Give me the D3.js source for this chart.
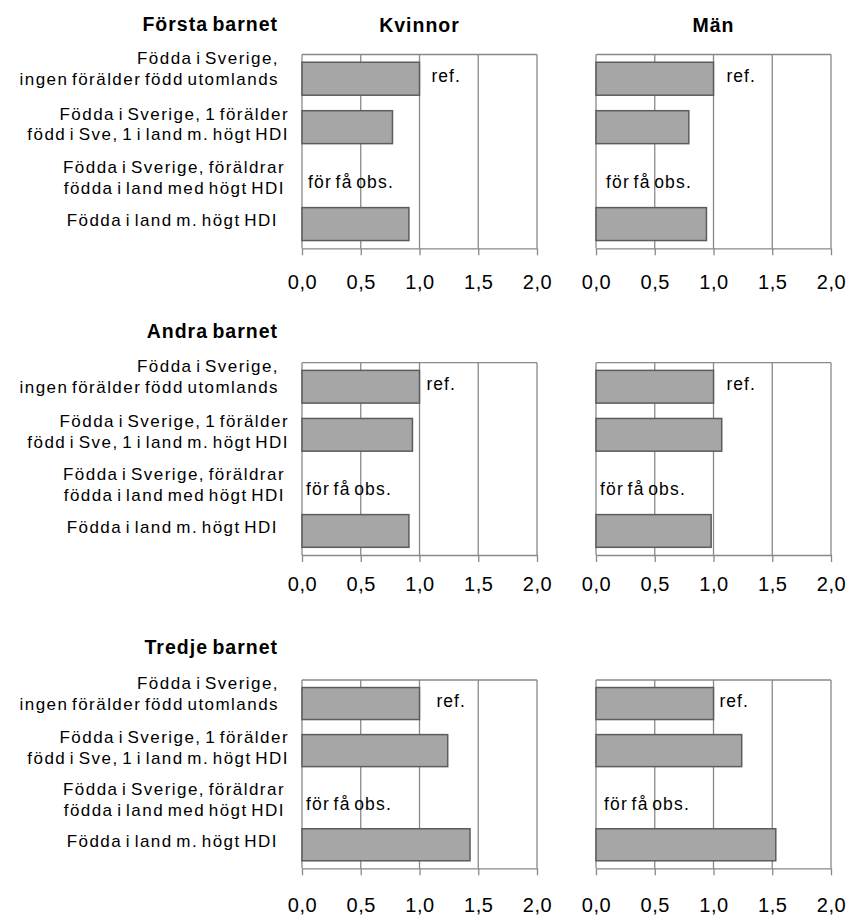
<!DOCTYPE html>
<html>
<head>
<meta charset="utf-8">
<script src="https://cdn.jsdelivr.net/npm/d3@7"></script>
<style>
  html, body { margin: 0; padding: 0; background: #fff; }
  svg { display: block; font-family: "Liberation Sans", Arial, sans-serif; }
</style>
</head>
<body>
<svg id="chart" width="848" height="918"></svg>
<script>
// ---------- DATA ----------
const parities = ["Första barnet", "Andra barnet", "Tredje barnet"];
const sexes = ["Kvinnor", "Män"];
const categories = [
  ["Födda i Sverige,", "ingen förälder född utomlands"],
  ["Födda i Sverige, 1 förälder", "född i Sve, 1 i land m. högt HDI"],
  ["Födda i Sverige, föräldrar", "födda i land med högt HDI"],
  ["Födda i land m. högt HDI"]
];
// relative risks per parity row (null = too few observations)
const kvinnorValues = [
  [1.00, 0.77, null, 0.91],
  [1.00, 0.94, null, 0.91],
  [1.00, 1.24, null, 1.43]
];
const manValues = [
  [1.00, 0.79, null, 0.94],
  [1.00, 1.07, null, 0.98],
  [1.00, 1.24, null, 1.53]
];
const tickValues = [0, 0.5, 1, 1.5, 2];
const tickLabels = ["0,0", "0,5", "1,0", "1,5", "2,0"];
const refLabel = "ref.";
const obsLabel = "för få obs.";

// ---------- LAYOUT / STYLE ----------
const colX = [[302, 537], [596, 831]];
const rowY = [[54.5, 248.3], [362.7, 555], [680, 868.3]];
const titleBase = [31, 337.5, 654];
const tickBase = [289.3, 590.5, 912];
const refDx = [[12, 13], [7, 13], [17, 6]];
const obsDx = [[6, 10], [4, 4], [4, 8]];
const catNudge = [-10, -3, 2, -3.5];
const catRight = [279, 289, 285, 278];
const gridColor = "#898989";
const barFill = "#a6a6a6";
const barStroke = "#5c5c5c";

const svg = d3.select("#chart");
const allValues = [kvinnorValues, manValues];

parities.forEach((pTitle, r) => {
  const y = d3.scaleBand().domain(d3.range(categories.length))
    .range(rowY[r]).paddingInner(0.32).paddingOuter(0.16);

  // row title
  svg.append("text")
    .attr("x", 278).attr("y", titleBase[r])
    .attr("text-anchor", "end")
    .style("font-weight", "bold").style("font-size", "19.5px")
    .style("letter-spacing", "1px").style("word-spacing", "-2px").attr("fill", "#000")
    .text(pTitle);

  // category labels
  categories.forEach((lines, i) => {
    const c = y(i) + y.bandwidth() / 2 + catNudge[i];
    const t = svg.append("text")
      .attr("text-anchor", "end")
      .style("font-size", "17px").style("letter-spacing", "1.45px")
      .style("word-spacing", "-2.5px")
      .attr("fill", "#000");
    if (lines.length === 2) {
      t.append("tspan").attr("x", catRight[i]).attr("y", c - 4.4).text(lines[0]);
      t.append("tspan").attr("x", catRight[i]).attr("y", c + 16.1).text(lines[1]);
    } else {
      t.append("tspan").attr("x", catRight[i]).attr("y", c + 5.9).text(lines[0]);
    }
  });

  sexes.forEach((sex, c) => {
    const x = d3.scaleLinear().domain([0, 2]).range(colX[c]);
    const [top, bottom] = rowY[r];
    const g = svg.append("g");

    if (r === 0) {
      svg.append("text")
        .attr("x", (colX[c][0] + colX[c][1]) / 2).attr("y", titleBase[0] + 1)
        .attr("text-anchor", "middle")
        .style("font-weight", "bold").style("font-size", "19.5px")
        .style("letter-spacing", "1px")
        .text(sex);
    }

    // gridlines
    g.selectAll("line.grid").data(tickValues.filter(v => v > 0)).join("line")
      .attr("x1", d => x(d)).attr("x2", d => x(d))
      .attr("y1", top).attr("y2", bottom)
      .attr("stroke", gridColor).attr("stroke-width", 1.3);
    // top border
    g.append("line")
      .attr("x1", x(0)).attr("x2", x(2)).attr("y1", top).attr("y2", top)
      .attr("stroke", gridColor).attr("stroke-width", 1.3);
    // left axis
    g.append("line")
      .attr("x1", x(0)).attr("x2", x(0)).attr("y1", top).attr("y2", bottom)
      .attr("stroke", gridColor).attr("stroke-width", 1.3);

    // bars
    const vals = allValues[c][r];
    g.selectAll("rect.bar").data(vals.map((v, i) => ({ v, i })).filter(d => d.v !== null))
      .join("rect")
      .attr("x", x(0))
      .attr("y", d => y(d.i))
      .attr("width", d => x(d.v) - x(0))
      .attr("height", y.bandwidth())
      .attr("fill", barFill).attr("stroke", barStroke).attr("stroke-width", 1.5);

    // ref label on the reference category
    g.append("text")
      .attr("x", x(vals[0]) + refDx[r][c])
      .attr("y", y(0) + y.bandwidth() / 2 + 3)
      .style("font-size", "17.5px").style("letter-spacing", "1px")
      .text(refLabel);

    // too few obs labels
    vals.forEach((v, i) => {
      if (v === null) {
        g.append("text")
          .attr("x", x(0) + obsDx[r][c])
          .attr("y", y(i) + y.bandwidth() / 2 + 12)
          .style("font-size", "17.5px").style("letter-spacing", "1.2px")
          .style("word-spacing", "-2.5px")
          .text(obsLabel);
      }
    });

    // bottom axis
    const ax = d3.axisBottom(x).tickValues(tickValues)
      .tickFormat((d, i) => tickLabels[i]).tickSize(7).tickSizeOuter(0);
    const axg = svg.append("g").attr("transform", `translate(0,${bottom})`).call(ax);
    axg.select(".domain").attr("stroke", gridColor).attr("stroke-width", 1.3);
    axg.selectAll(".tick line").attr("stroke", gridColor).attr("stroke-width", 1.3);
    axg.selectAll(".tick text")
      .attr("y", tickBase[r] - bottom).attr("dy", 0)
      .attr("fill", "#000")
      .style("font-size", "20px").style("letter-spacing", "0.5px")
      .style("font-family", "\"Liberation Sans\", Arial, sans-serif");
  });
});
</script>
</body>
</html>
